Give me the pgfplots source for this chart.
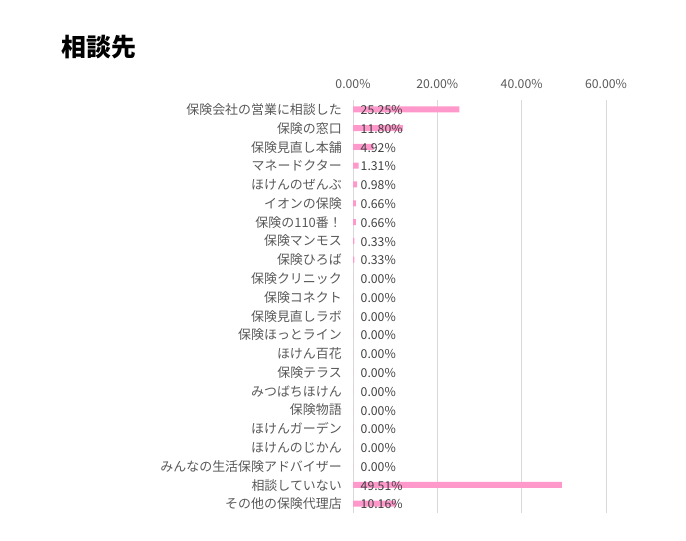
\documentclass[border=0pt]{standalone}
\usepackage{pgfplots}
\pgfplotsset{compat=1.18}
\usepackage{pgfplotstable}
\usepackage{fontspec}
\setmainfont{Noto Sans CJK JP}
\definecolor{barpink}{HTML}{FF99CC}
\definecolor{gridgray}{HTML}{D9D9D9}
\definecolor{labgray}{HTML}{595959}
\definecolor{valtxt}{HTML}{404040}
\pgfplotstableread{
idx v
0 25.25
1 11.80
2 4.92
3 1.31
4 0.98
5 0.66
6 0.66
7 0.33
8 0.33
9 0
10 0
11 0
12 0
13 0
14 0
15 0
16 0
17 0
18 0
19 0
20 49.51
21 10.16
}\data
\begin{document}
\begin{tikzpicture}
\useasboundingbox (0,0) rectangle (686bp,541bp);
\node[anchor=west, inner sep=0pt, font=\bfseries\fontsize{25}{29}\selectfont] at (61.5bp,494bp) {相談先};
\begin{axis}[
  at={(353bp,28bp)}, anchor=south west,
  scale only axis, width=253bp, height=413bp,
  xmin=0, xmax=60, ymin=-0.5, ymax=21.5,
  y dir=reverse,
  axis line style={draw=none},
  major tick length=0pt,
  xtick={0,20,40,60},
  xticklabels={0.00\%,20.00\%,40.00\%,60.00\%},
  xticklabel pos=upper,
  xmajorgrids,
  grid style={gridgray, line width=0.8bp},
  ytick={0,...,21},
  yticklabels={保険会社の営業に相談した,保険の窓口,保険見直し本舗,マネードクター,ほけんのぜんぶ,イオンの保険,保険の110番！,保険マンモス,保険ひろば,保険クリニック,保険コネクト,保険見直しラボ,保険ほっとライン,ほけん百花,保険テラス,みつばちほけん,保険物語,ほけんガーデン,ほけんのじかん,みんなの生活保険アドバイザー,相談していない,その他の保険代理店},
  x tick label style={font=\fontsize{12.3}{14}\selectfont, text=labgray, inner sep=0pt, anchor=south, yshift=11.5bp},
  y tick label style={font=\fontsize{13}{15}\selectfont, text=labgray, inner sep=0pt, anchor=east, xshift=-11bp, yshift=-0.3bp},
  /pgf/number format/assume math mode=true,
  clip=false,
]
\addplot[xbar, fill=barpink, draw=none, bar width=6bp] table[x=v, y=idx] {\data};
\addplot[draw=none, mark=none,
  nodes near coords={\pgfmathprintnumber[fixed,fixed zerofill,precision=2]{\pgfplotspointmeta}\%},
  nodes near coords style={anchor=west, inner sep=0pt, xshift=7.5bp, yshift=-0.8bp, font=\fontsize{12.3}{14}\selectfont, text=valtxt},
  point meta=\thisrow{v}] table[x expr=0, y=idx] {\data};
\end{axis}
\end{tikzpicture}
\end{document}
